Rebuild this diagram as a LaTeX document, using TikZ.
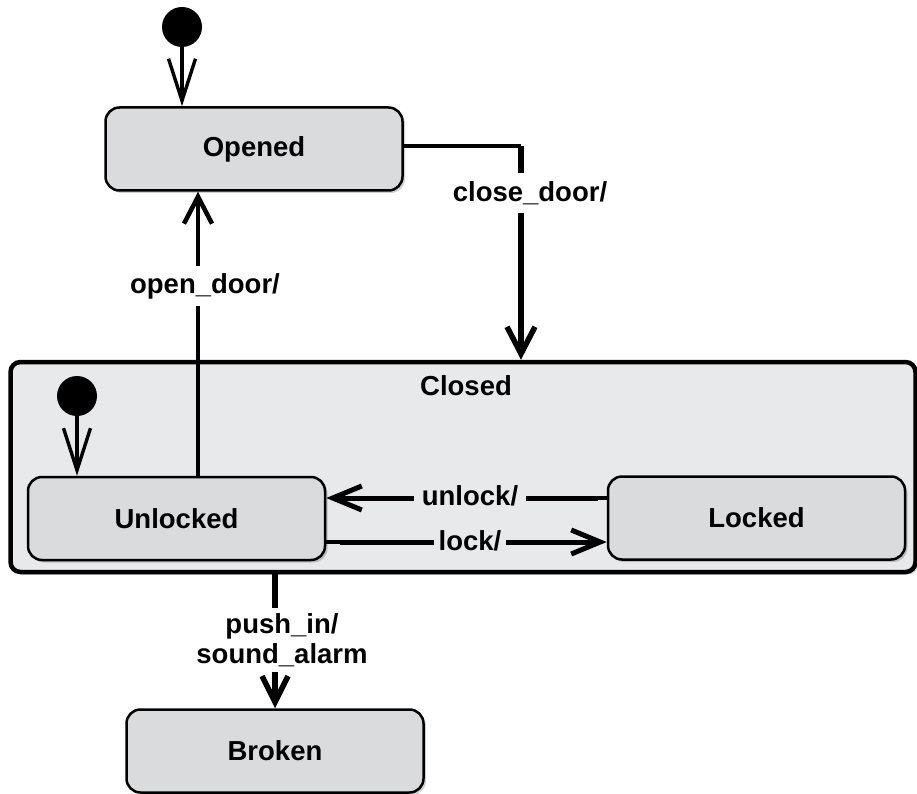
\documentclass[tikz,border=0pt]{standalone}
\usepackage{fontspec}
\setmainfont{Liberation Sans}
\usetikzlibrary{arrows.meta,shadows}
\definecolor{stfill}{RGB}{218,219,221}
\definecolor{closedfill}{RGB}{232,233,235}
\begin{document}
\begin{tikzpicture}[x=1pt,y=-1pt,
  lbl/.style={font=\bfseries\fontsize{27.5}{30}\selectfont},
  shad/.style={drop shadow={shadow xshift=2.5pt,shadow yshift=-2.5pt,opacity=0.18,fill=black}},
  state/.style={draw,line width=2.5pt,rounded corners=14pt,fill=stfill,minimum width=297pt,minimum height=83pt,inner sep=0pt,lbl,shad},
  initdot/.style={circle,fill=black,minimum size=40pt,inner sep=0pt},
  thinline/.style={line width=3.3pt},
  thickline/.style={line width=5pt},
  tip/.style={-{Straight Barb[length=27pt,width=28pt]}},
  longtip/.style={-{Straight Barb[length=42pt,width=27pt]}},
  edgelbl/.style={lbl,fill=white,inner xsep=3pt,inner ysep=8pt}
]
\useasboundingbox (0,0) rectangle (917,794);

% states
\node[draw,line width=4.5pt,rounded corners=10pt,fill=closedfill,minimum width=905pt,minimum height=210pt,inner sep=0pt,shad] (Closed) at (463,467) {};
\node[lbl] (ClosedT) at (466,386) {Closed};
\node[state] (Opened) at (254,149) {Opened};
\node[state] (Unlocked) at (176.5,518.5) {Unlocked};
\node[state] (Locked) at (756.5,518) {Locked};
\node[state] (Broken) at (275,751) {Broken};

% initial pseudostates
\node[initdot] (init1) at (182,27) {};
\node[initdot] (init2) at (77,396) {};
\draw[line width=3.4pt,longtip] (init1) -- (init1 |- Opened.north);
\draw[line width=3.4pt,longtip] (init2) -- (init2 |- Unlocked.north);

% close_door
\coordinate (cd) at (521,146);
\draw[thinline] (Opened.east |- cd) -- (cd);
\draw[line width=5.5pt,tip] (cd) -- (cd |- Closed.north);
\node[edgelbl] (cdl) at (530,193) {close\_door/};

% open_door
\coordinate (od) at (198,286);
\draw[thinline] (Unlocked.north -| od) -- (od);
\draw[line width=4.5pt,tip] (od) -- (od |- Opened.south);
\node[edgelbl,inner ysep=7pt] (odl) at (205,286) {open\_door/};

% unlock
\coordinate (ul) at (598,498);
\draw[thinline] (Locked.west |- ul) -- (ul);
\draw[thickline,-{Straight Barb[length=29pt,width=24pt]}] (ul) -- (ul -| Unlocked.east);
\node[lbl,fill=closedfill,inner xsep=8pt,inner ysep=2pt] (ull) at (470,496) {unlock/};

% lock
\coordinate (lk) at (340,542);
\draw[thinline] (Unlocked.east |- lk) -- (lk);
\draw[thickline,-{Straight Barb[length=29pt,width=24pt]}] (lk) -- (lk -| Locked.west);
\node[lbl,fill=closedfill,inner xsep=5pt,inner ysep=2pt] (lkl) at (470,541) {lock/};

% push_in
\draw[line width=5.5pt,-{Straight Barb[length=26pt,width=26pt]}] (Closed.south -| Broken.north) -- (Broken.north);
\node[lbl,fill=white,align=center,inner xsep=3pt,inner ysep=5pt] (pil) at (282,640) {push\_in/\\sound\_alarm};
\end{tikzpicture}
\end{document}
